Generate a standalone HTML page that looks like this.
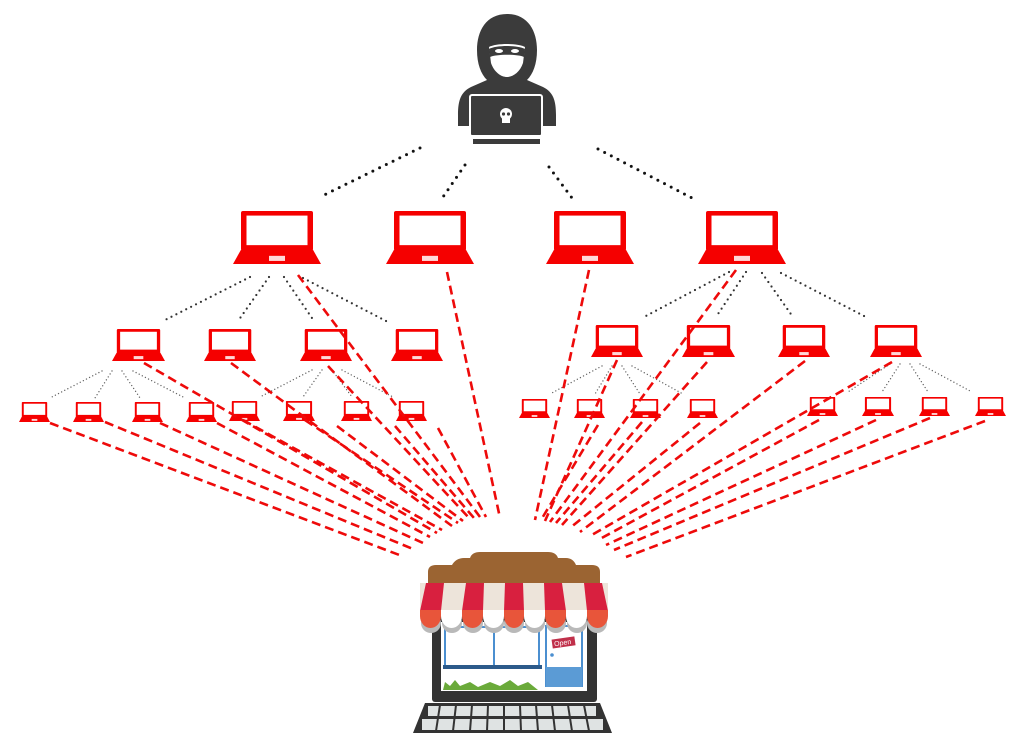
<!DOCTYPE html>
<html><head><meta charset="utf-8"><style>html,body{margin:0;padding:0;background:#fff;width:1024px;height:748px;overflow:hidden}</style></head>
<body>
<svg width="1024" height="748" viewBox="0 0 1024 748" xmlns="http://www.w3.org/2000/svg">
<defs>
<symbol id="lap" viewBox="0 0 88 52" preserveAspectRatio="none">
<rect x="8" y="0" width="72" height="39" rx="2" fill="#f50000"/>
<rect x="13.5" y="4.5" width="61" height="29" fill="#fff"/>
<polygon points="8,38 80,38 88,52 0,52" fill="#f50000"/>
<rect x="36" y="44" width="16" height="5" fill="#ffd8d8"/>
</symbol>
</defs>

<g stroke="#111" stroke-width="3" stroke-linecap="round" stroke-dasharray="0 7.5" fill="none">
<line x1="420" y1="148" x2="320" y2="197"/>
<line x1="465" y1="165" x2="443" y2="197"/>
<line x1="549" y1="167" x2="572" y2="198"/>
<line x1="598" y1="149" x2="692" y2="198"/>
</g>
<g stroke="#333" stroke-width="2.2" stroke-linecap="round" stroke-dasharray="0 5.5" fill="none">
<line x1="250" y1="277" x2="165" y2="320"/>
<line x1="269" y1="277" x2="238" y2="321"/>
<line x1="284" y1="277" x2="314" y2="321"/>
<line x1="303" y1="278" x2="388" y2="322"/>
<line x1="729" y1="272" x2="644" y2="317"/>
<line x1="746" y1="272" x2="716" y2="317"/>
<line x1="762" y1="273" x2="793" y2="317"/>
<line x1="781" y1="273" x2="866" y2="317"/>
</g>
<g stroke="#666" stroke-width="1.4" stroke-linecap="round" stroke-dasharray="0 3.5" fill="none">
<line x1="102" y1="371" x2="50" y2="398"/>
<line x1="112" y1="371" x2="95" y2="398"/>
<line x1="122" y1="371" x2="140" y2="398"/>
<line x1="133" y1="371" x2="185" y2="398"/>
<line x1="312" y1="370" x2="260" y2="397"/>
<line x1="322" y1="370" x2="303" y2="397"/>
<line x1="332" y1="370" x2="352" y2="397"/>
<line x1="342" y1="370" x2="393" y2="397"/>
<line x1="602" y1="366" x2="550" y2="394"/>
<line x1="612" y1="366" x2="595" y2="394"/>
<line x1="622" y1="366" x2="640" y2="394"/>
<line x1="632" y1="366" x2="683" y2="394"/>
<line x1="890" y1="364" x2="848" y2="392"/>
<line x1="900" y1="364" x2="882" y2="392"/>
<line x1="910" y1="364" x2="928" y2="392"/>
<line x1="920" y1="364" x2="972" y2="392"/>
</g>

<use href="#lap" x="233" y="211" width="88" height="53"/>
<use href="#lap" x="386" y="211" width="88" height="53"/>
<use href="#lap" x="546" y="211" width="88" height="53"/>
<use href="#lap" x="698" y="211" width="88" height="53"/>

<use href="#lap" x="112" y="329" width="53" height="32"/>
<use href="#lap" x="204" y="329" width="52" height="32"/>
<use href="#lap" x="300" y="329" width="52" height="32"/>
<use href="#lap" x="391" y="329" width="52" height="32"/>
<use href="#lap" x="591" y="325" width="52" height="32"/>
<use href="#lap" x="682" y="325" width="53" height="32"/>
<use href="#lap" x="778" y="325" width="52" height="32"/>
<use href="#lap" x="870" y="325" width="52" height="32"/>

<use href="#lap" x="19" y="402" width="31" height="20"/>
<use href="#lap" x="73" y="402" width="31" height="20"/>
<use href="#lap" x="132" y="402" width="31" height="20"/>
<use href="#lap" x="186" y="402" width="31" height="20"/>
<use href="#lap" x="229" y="401" width="31" height="20"/>
<use href="#lap" x="283" y="401" width="32" height="20"/>
<use href="#lap" x="341" y="401" width="31" height="20"/>
<use href="#lap" x="396" y="401" width="31" height="20"/>
<use href="#lap" x="519" y="399" width="31" height="19"/>
<use href="#lap" x="574" y="399" width="31" height="19"/>
<use href="#lap" x="630" y="399" width="31" height="19"/>
<use href="#lap" x="687" y="399" width="31" height="19"/>
<use href="#lap" x="807" y="397" width="31" height="19"/>
<use href="#lap" x="862" y="397" width="32" height="19"/>
<use href="#lap" x="919" y="397" width="31" height="19"/>
<use href="#lap" x="975" y="397" width="31" height="19"/>

<g stroke="#ee0a0a" stroke-width="2.6" stroke-dasharray="9 5" fill="none">
<line x1="50" y1="423" x2="402" y2="556"/>
<line x1="105" y1="422" x2="413" y2="549"/>
<line x1="160" y1="423" x2="423" y2="543"/>
<line x1="217" y1="423" x2="430" y2="537"/>
<line x1="144" y1="363" x2="437" y2="533"/>
<line x1="243" y1="420" x2="442" y2="530"/>
<line x1="231" y1="363" x2="452" y2="526"/>
<line x1="305" y1="420" x2="458" y2="523"/>
<line x1="337" y1="426" x2="463" y2="521"/>
<line x1="328" y1="366" x2="470" y2="519"/>
<line x1="395" y1="426" x2="474" y2="518"/>
<line x1="298" y1="275" x2="480" y2="517"/>
<line x1="438" y1="428" x2="486" y2="517"/>
<line x1="447" y1="272" x2="500" y2="518"/>

<line x1="589" y1="270" x2="535" y2="520"/>
<line x1="598" y1="425" x2="541" y2="520"/>
<line x1="617" y1="360" x2="545" y2="521"/>
<line x1="736" y1="270" x2="550" y2="522"/>
<line x1="642" y1="422" x2="556" y2="523"/>
<line x1="707" y1="362" x2="562" y2="525"/>
<line x1="700" y1="423" x2="570" y2="528"/>
<line x1="805" y1="361" x2="580" y2="532"/>
<line x1="892" y1="362" x2="590" y2="536"/>
<line x1="819" y1="420" x2="598" y2="540"/>
<line x1="876" y1="420" x2="606" y2="545"/>
<line x1="930" y1="418" x2="614" y2="550"/>
<line x1="985" y1="421" x2="626" y2="557"/>
</g>

<!-- hacker -->
<path d="M507,14 C486,14 477,31 477,50 C477,64 481,74 487,80 L471,87 C461,92 458,100 458,115 L458,126 L556,126 L556,115 C556,100 553,92 543,87 L527,80 C533,74 537,64 537,50 C537,31 528,14 507,14Z" fill="#3b3b3b"/>
<path d="M489,47 C496,43 518,43 525,47 L523,63 C520,72 513,77 507,77 C501,77 494,72 491,63Z" fill="#fff"/>
<path d="M489,49 C496,45 518,45 525,49 L524,57 C518,54 496,54 490,57Z" fill="#3b3b3b"/>
<ellipse cx="499" cy="51" rx="4" ry="2" fill="#fff"/>
<ellipse cx="515" cy="51" rx="4" ry="2" fill="#fff"/>
<rect x="470" y="95" width="72" height="41" rx="2" fill="#3b3b3b" stroke="#fff" stroke-width="2"/>
<rect x="473" y="139" width="67" height="5" fill="#3b3b3b"/>
<circle cx="506" cy="114" r="6" fill="#fff"/>
<rect x="502" y="117" width="8" height="6" fill="#fff"/>
<circle cx="503.5" cy="114" r="1.6" fill="#3b3b3b"/>
<circle cx="508.5" cy="114" r="1.6" fill="#3b3b3b"/>

<!-- store keyboard -->
<path d="M413,733 L425,703 L600,703 L612,733Z" fill="#333"/>
<g fill="#dfe3e3">
<rect x="428" y="706" width="168" height="10"/>
<rect x="422" y="719" width="181" height="11"/>
</g>
<g stroke="#333" stroke-width="2">
<line x1="440" y1="705" x2="436" y2="731"/><line x1="456" y1="705" x2="453" y2="731"/><line x1="472" y1="705" x2="470" y2="731"/><line x1="488" y1="705" x2="487" y2="731"/><line x1="504" y1="705" x2="504" y2="731"/><line x1="520" y1="705" x2="521" y2="731"/><line x1="536" y1="705" x2="538" y2="731"/><line x1="552" y1="705" x2="555" y2="731"/><line x1="568" y1="705" x2="572" y2="731"/><line x1="584" y1="705" x2="589" y2="731"/>
</g>
<rect x="432" y="615" width="165" height="87" rx="3" fill="#333"/>
<rect x="441" y="622" width="146" height="69" fill="#fff"/>
<rect x="445" y="627" width="94" height="40" fill="none" stroke="#4b8fd0" stroke-width="2"/>
<line x1="494" y1="627" x2="494" y2="667" stroke="#4b8fd0" stroke-width="2"/>
<rect x="443" y="665" width="99" height="4" fill="#2c5a8a"/>
<rect x="546" y="626" width="36" height="60" fill="#fff" stroke="#4b8fd0" stroke-width="2"/>
<rect x="546" y="667" width="36" height="20" fill="#5b9bd5"/>
<circle cx="552" cy="655" r="1.8" fill="#4b8fd0"/>
<rect x="552" y="638" width="23" height="9" fill="#c0304a" transform="rotate(-8 563 642)"/>
<text x="554" y="645" font-family="Liberation Sans, sans-serif" font-size="7" fill="#fff" transform="rotate(-8 563 642)">Open</text>
<path d="M443,690 L445,682 L450,686 L455,680 L460,686 L470,682 L478,687 L490,682 L500,686 L510,680 L518,686 L528,682 L538,690Z" fill="#6aaa3a"/>
<!-- roof -->
<path d="M428,584 L428,572 Q428,565 436,565 L452,565 Q456,558 464,558 L470,558 Q472,552 480,552 L548,552 Q556,552 558,558 L566,558 Q573,558 576,565 L592,565 Q600,565 600,572 L600,584Z" fill="#9b6432"/>
<!-- awning shadow -->
<g fill="#b9b9b9">
<circle cx="431" cy="623" r="10"/><circle cx="452" cy="623" r="10"/><circle cx="473" cy="623" r="10"/><circle cx="494" cy="623" r="10"/><circle cx="514" cy="623" r="10"/><circle cx="535" cy="623" r="10"/><circle cx="556" cy="623" r="10"/><circle cx="577" cy="623" r="10"/><circle cx="597" cy="623" r="10"/>
</g>
<!-- stripes -->
<g>
<rect x="420" y="583" width="188" height="28" fill="#ede4da"/>
<g fill="#d8203f">
<polygon points="426,583 444,583 441,611 420,611"/>
<polygon points="466,583 484,583 483,611 462,611"/>
<polygon points="505,583 523,583 524,611 504,611"/>
<polygon points="544,583 562,583 566,611 545,611"/>
<polygon points="584,583 602,583 608,611 587,611"/>
</g>
</g>
<!-- scallops -->
<g>
<path d="M420,610 h21 v6 a10.5,12 0 0 1 -21,0z" fill="#e8553a"/>
<path d="M441,610 h21 v6 a10.5,12 0 0 1 -21,0z" fill="#fff"/>
<path d="M462,610 h21 v6 a10.5,12 0 0 1 -21,0z" fill="#e8553a"/>
<path d="M483,610 h21 v6 a10.5,12 0 0 1 -21,0z" fill="#fff"/>
<path d="M504,610 h20 v6 a10,12 0 0 1 -20,0z" fill="#e8553a"/>
<path d="M524,610 h21 v6 a10.5,12 0 0 1 -21,0z" fill="#fff"/>
<path d="M545,610 h21 v6 a10.5,12 0 0 1 -21,0z" fill="#e8553a"/>
<path d="M566,610 h21 v6 a10.5,12 0 0 1 -21,0z" fill="#fff"/>
<path d="M587,610 h21 v6 a10.5,12 0 0 1 -21,0z" fill="#e8553a"/>
</g>
</svg>
</body></html>
